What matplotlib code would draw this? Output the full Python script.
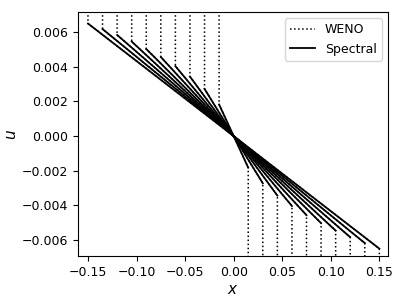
import numpy as np
import matplotlib.pyplot as plt

# shock positions (left side, negative x) and left-edge values of u
x_shock = [0.015, 0.030, 0.045, 0.060, 0.075, 0.090, 0.105, 0.120, 0.135, 0.150]
u_edge = [0.00182, 0.00272, 0.00343, 0.00403, 0.00456, 0.00502, 0.00545, 0.00583, 0.00617, 0.00649]
u_far = 0.01  # value beyond the jump (off the plot)

fig = plt.figure(figsize=(4.03, 3.02), dpi=100)
ax = fig.add_axes([0.1935, 0.152, 0.7695, 0.808])

for i, (xs, ue) in enumerate(zip(x_shock, u_edge)):
    xw = [-xs, -xs, xs, xs]
    uw = [u_far, ue, -ue, -u_far]
    ax.plot(xw, uw, ':', color='k', lw=1.1, label='WENO' if i == 0 else None)
for i, (xs, ue) in enumerate(zip(x_shock, u_edge)):
    xx = np.linspace(-xs, xs, 50)
    ax.plot(xx, -ue / xs * xx, '-', color='k', lw=1.3, label='Spectral' if i == 0 else None)

ax.set_xlim(-0.1603, 0.159)
ax.set_ylim(-0.00692, 0.00715)
ax.set_xticks([-0.15, -0.10, -0.05, 0.00, 0.05, 0.10, 0.15])
ax.set_yticks([-0.006, -0.004, -0.002, 0.0, 0.002, 0.004, 0.006])
ax.tick_params(labelsize=9)
ax.set_xlabel('$x$', fontsize=11, labelpad=2)
ax.set_ylabel('$u$', fontsize=11, labelpad=2)
ax.legend(loc='upper right', fontsize=9)

fig.savefig('out.png', dpi=100)
